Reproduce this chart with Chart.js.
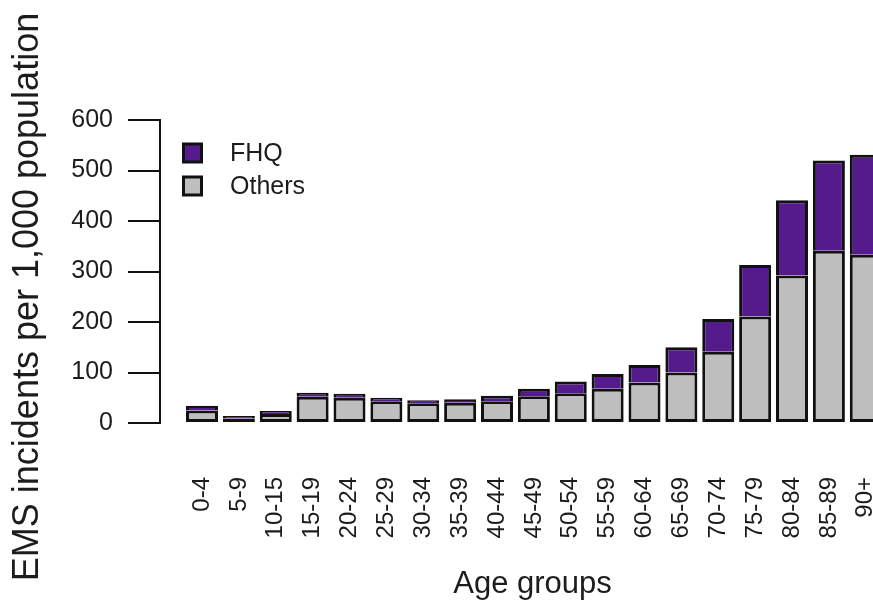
<!DOCTYPE html>
<html>
<head>
<meta charset="utf-8">
<title>EMS incidents by age group</title>
<script src="https://cdn.jsdelivr.net/npm/chart.js@4/dist/chart.umd.min.js"></script>
<style>
  html, body { margin: 0; padding: 0; overflow: hidden; background: #ffffff; }
  #wrap { width: 905px; height: 603px; }
</style>
</head>
<body>
<div id="wrap"><canvas id="chart" width="905" height="603"></canvas></div>
<script>
// Age groups on the horizontal axis
const ageGroups = ['0-4', '5-9', '10-15', '15-19', '20-24', '25-29', '30-34', '35-39', '40-44',
  '45-49', '50-54', '55-59', '60-64', '65-69', '70-74', '75-79', '80-84', '85-89', '90+'];

// EMS incidents per 1,000 population, split by incident type (stacked)
const others = [25, 9, 18, 52, 50, 43, 39, 40, 43, 53, 59, 68, 80, 100, 141, 211, 292, 341, 333];
const fhq    = [9, 5, 6, 8, 8, 7, 6, 7, 11, 15, 23, 29, 35, 50, 65, 102, 149, 179, 198];

// Vertical axis ticks
const yTicks = [0, 100, 200, 300, 400, 500, 600];

const FONT = "'Liberation Sans', Arial, Helvetica, sans-serif";
const INK = '#1c1c1c';

// Draws the vertical axis title and the boxed legend in the upper left of the plot
const decorations = {
  id: 'decorations',
  afterDraw(chart) {
    const ctx = chart.ctx;
    ctx.save();
    // y-axis title
    ctx.translate(38, 297);
    ctx.rotate(-Math.PI / 2);
    ctx.font = '36px ' + FONT;
    ctx.fillStyle = INK;
    ctx.textAlign = 'center';
    ctx.textBaseline = 'alphabetic';
    ctx.fillText('EMS incidents per 1,000 population', 0, 0);
    ctx.restore();

    // legend: top series first
    const items = chart.data.datasets.slice().reverse();
    ctx.save();
    ctx.font = '25px ' + FONT;
    ctx.textAlign = 'left';
    ctx.textBaseline = 'middle';
    items.forEach((ds, i) => {
      const cy = 153 + i * 33;
      ctx.fillStyle = ds.backgroundColor;
      ctx.strokeStyle = ds.borderColor;
      ctx.lineWidth = 3;
      ctx.beginPath();
      ctx.rect(183.5, cy - 9, 18, 18);
      ctx.fill();
      ctx.stroke();
      ctx.fillStyle = INK;
      ctx.fillText(ds.label, 230, cy + 1);
    });
    ctx.restore();
  }
};

const toPoints = arr => arr.map((v, i) => ({ x: i, y: v }));

new Chart(document.getElementById('chart'), {
  type: 'bar',
  data: {
    datasets: [
      {
        label: 'Others',
        data: toPoints(others),
        backgroundColor: '#bebebe',
        borderColor: '#111111',
        borderWidth: 3,
        borderSkipped: false,
        barPercentage: 0.868,
        categoryPercentage: 1.0
      },
      {
        label: 'FHQ',
        data: toPoints(fhq),
        backgroundColor: '#551a8b',
        borderColor: '#111111',
        borderWidth: 3,
        borderSkipped: 'bottom',
        barPercentage: 0.868,
        categoryPercentage: 1.0
      }
    ]
  },
  options: {
    responsive: false,
    animation: false,
    devicePixelRatio: 1,
    layout: { padding: { top: 120, left: 0, right: 0, bottom: 0 } },
    plugins: {
      legend: { display: false },
      tooltip: { enabled: false }
    },
    scales: {
      x: {
        type: 'linear',
        stacked: true,
        offset: false,
        min: -1.139,
        max: 19.064,
        grid: { display: false, drawTicks: false },
        border: { display: false },
        afterBuildTicks: s => { s.ticks = ageGroups.map((_, i) => ({ value: i })); },
        afterFit: s => { s.height = 180; s.paddingLeft = 0; s.paddingRight = 0; },
        ticks: {
          autoSkip: false,
          includeBounds: false,
          minRotation: 90,
          maxRotation: 90,
          padding: 54,
          color: INK,
          font: { family: FONT, size: 24 },
          callback: v => ageGroups[v]
        },
        title: {
          display: true,
          text: 'Age groups',
          color: INK,
          font: { family: FONT, size: 31 },
          padding: { top: 0, bottom: 0 }
        }
      },
      y: {
        stacked: true,
        min: 0,
        max: 600,
        afterBuildTicks: s => { s.ticks = yTicks.map(v => ({ value: v })); },
        afterFit: s => { s.width = 160; },
        grid: {
          display: true,
          drawOnChartArea: false,
          drawTicks: true,
          tickLength: 32,
          color: '#111111',
          lineWidth: 2
        },
        border: { display: true, color: '#111111', width: 2 },
        ticks: {
          padding: 15,
          color: INK,
          font: { family: FONT, size: 25 }
        }
      }
    }
  },
  plugins: [decorations]
});
</script>
</body>
</html>
